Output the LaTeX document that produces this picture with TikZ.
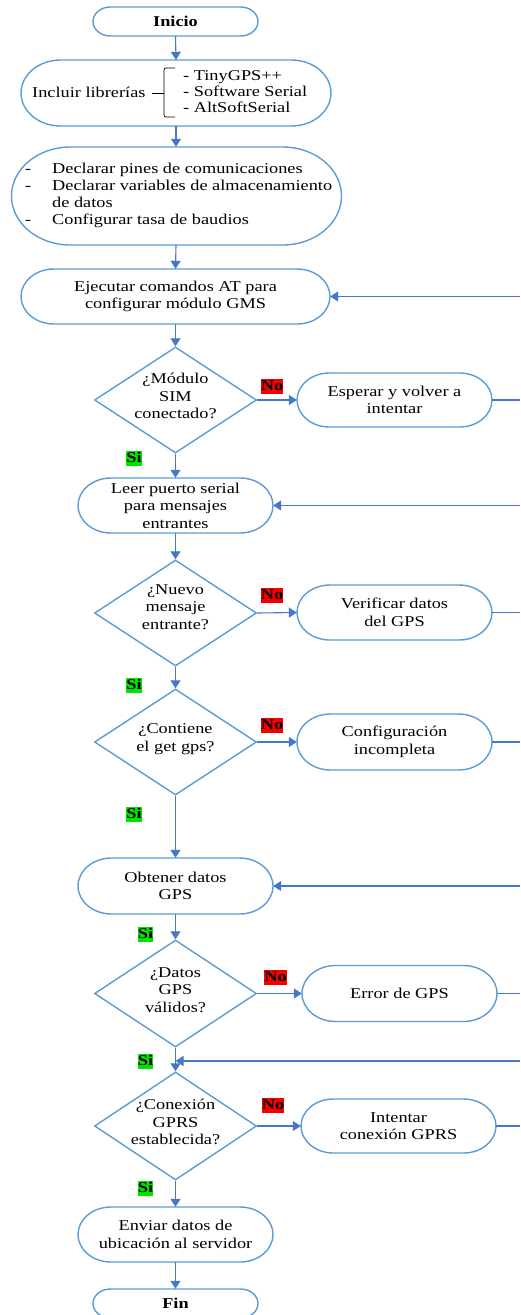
\documentclass[tikz,border=0pt]{standalone}
\usepackage{fontspec}
\setmainfont{Liberation Serif}[FakeStretch=1.22]
\usetikzlibrary{arrows.meta,shapes.geometric,calc}
\definecolor{boxblue}{RGB}{91,155,213}
\definecolor{arrblue}{RGB}{72,118,200}
\definecolor{siG}{RGB}{0,228,0}
\definecolor{noR}{RGB}{245,0,0}
\newcommand\fs{\fontsize{15}{17.5}\selectfont}
\newcommand\stad[6]{%
 \node[txt,minimum width=#4pt,minimum height=#5pt] (#1) at (#2,-#3) {#6};
 \pgfmathsetmacro\hh{#5/2}\pgfmathsetmacro\rx{1.2*\hh}%
 \draw[bx] ({#2-#4/2+\rx},{-#3+\hh}) -- ({#2+#4/2-\rx},{-#3+\hh})
   arc[start angle=90,end angle=-90,x radius=\rx,y radius=\hh]
   -- ({#2-#4/2+\rx},{-#3-\hh})
   arc[start angle=270,end angle=90,x radius=\rx,y radius=\hh] -- cycle;}
\tikzset{
 txt/.style={inner sep=0pt,align=center,font=\fs},
 bx/.style={draw=boxblue,line width=1.4pt},
 dia/.style={shape=diamond,draw=boxblue,line width=1.4pt,inner sep=0pt,minimum width=162pt,minimum height=106pt},
 arr/.style={draw=arrblue,line width=1.1pt,-{Triangle[width=10pt,length=8pt]}},
 ln/.style={draw=arrblue,line width=1.1pt},
 lab/.style={font=\bfseries\fontsize{15}{15}\selectfont,inner xsep=0pt,inner ysep=1pt,text height=11pt,text depth=2pt},
 silab/.style={lab,fill=siG},
 nolab/.style={lab,fill=noR},
}
\begin{document}
\begin{tikzpicture}[x=1pt,y=1pt]
\useasboundingbox (0,0) rectangle (520,-1315);
\clip (0,0) rectangle (520,-1315);
% main column
\stad{ini}{175.5}{21.5}{165}{29}{\bfseries Inicio}
\stad{inc}{176}{93}{310}{66}{}
\node[txt,anchor=west] (inct) at (32,-92) {Incluir librerías};
\node[txt,anchor=west,align=left,font=\fontsize{15}{16}\selectfont] (libs) at (183,-92) {- TinyGPS++\\- Software Serial\\- AltSoftSerial};
\coordinate (brA) at (175,-68);
\coordinate (brB) at (175,-117);
\coordinate (brC) at (152,-93);
\draw[line width=0.7pt,rounded corners=2pt] (brA) -- (164,-68) -- (164,-117) -- (brB);
\draw[line width=0.7pt] (brC) -- (164,-93);
\stad{dec}{176.5}{196}{330}{98}{}
\node[txt,anchor=west,align=left,font=\fontsize{15}{17}\selectfont] (dect) at (25,-195.5) {\makebox[27pt][l]{-}Declarar pines de comunicaciones\\\makebox[27pt][l]{-}Declarar variables de almacenamiento\\\hspace*{27pt}de datos\\\makebox[27pt][l]{-}Configurar tasa de baudios};
\stad{eje}{175.5}{296.5}{309}{55}{Ejecutar comandos AT para\\configurar módulo GMS}
\node[dia] (d1) at (175.5,-400) {};
\node[txt] (d1t) at (175.5,-396) {¿Módulo\\SIM\\conectado?};
\stad{esp}{394.5}{400}{195}{54}{Esperar y volver a\\intentar}
\stad{leer}{175.5}{505.5}{195}{55}{Leer puerto serial\\para mensajes\\entrantes}
\node[dia] (d2) at (175.5,-613) {};
\node[txt] (d2t) at (175.5,-607) {¿Nuevo\\mensaje\\entrante?};
\stad{ver}{394.5}{612.5}{195}{55}{Verificar datos\\del GPS}
\node[dia] (d3) at (175.5,-742) {};
\node[txt] (d3t) at (175.5,-739) {¿Contiene\\el get gps?};
\stad{conf}{394.5}{742}{195}{56}{Configuración\\incompleta}
\stad{obt}{175.5}{886}{195}{56}{Obtener datos\\GPS}
\node[dia,minimum height=107pt] (d4) at (175.5,-993.5) {};
\node[txt] (d4t) at (175.5,-990) {¿Datos\\GPS\\válidos?};
\stad{err}{399.5}{993.5}{195}{56}{Error de GPS}
\node[dia,minimum height=108pt] (d5) at (175.5,-1126) {};
\node[txt] (d5t) at (175.5,-1122) {¿Conexión\\GPRS\\establecida?};
\stad{int}{398.5}{1126}{195}{54}{Intentar\\conexión GPRS}
\stad{env}{175.5}{1234.5}{195}{55}{Enviar datos de\\ubicación al servidor}
\stad{fin}{175.5}{1303.5}{165}{29}{\bfseries Fin}
% right edge coordinates
\coordinate (r1) at (520,-296.5);
\coordinate (r2) at (520,-400);
\coordinate (r3) at (520,-505.5);
\coordinate (r4) at (520,-612.5);
\coordinate (r5) at (520,-742);
\coordinate (r6) at (520,-886);
\coordinate (r7) at (520,-993.5);
\coordinate (r8) at (520,-1061);
\coordinate (r9) at (520,-1126);
\coordinate (m) at (175.5,-1061);
% connectors
\draw[arr] (ini.south) -- (inc.south |- inc.north);
\draw[arr] (inc.south) -- (inc.south |- dec.north);
\draw[arr] (inc.south |- dec.south) -- (eje.north);
\draw[arr] (eje.south) -- (d1.north);
\draw[arr] (d1.east) -- (esp.west);
\draw[arr] (d1.south) -- (leer.north);
\draw[ln] (esp.east) -- (r2);
\draw[arr] (r1) -- (eje.east);
\draw[arr] (leer.south) -- (d2.north);
\draw[arr] (d2.east) -- (ver.west);
\draw[ln] (ver.east) -- (r4);
\draw[arr] (r3) -- (leer.east);
\draw[arr] (d2.south) -- (d3.north);
\draw[arr] (d3.east) -- (conf.west);
\draw[ln] (conf.east) -- (r5);
\draw[arr] (d3.south) -- (obt.north);
\draw[arr] (r6) -- (obt.east);
\draw[arr] (obt.south) -- (d4.north);
\draw[arr] (d4.east) -- (err.west);
\draw[ln] (err.east) -- (r7);
\draw[arr] (d4.south) -- (d5.north);
\draw[arr] (r8) -- (m);
\draw[arr] (d5.east) -- (int.west);
\draw[ln] (int.east) -- (r9);
\draw[arr] (d5.south) -- (env.north);
\draw[arr] (env.south) -- (fin.north);
% labels
\node[nolab] (no1) at (272,-386) {No};
\node[silab] (si1) at (134,-458) {Si};
\node[nolab] (no2) at (272,-595) {No};
\node[silab] (si2) at (134,-685) {Si};
\node[nolab] (no3) at (272,-725) {No};
\node[silab] (si3) at (134,-814) {Si};
\node[silab] (si4) at (145.5,-934) {Si};
\node[nolab] (no4) at (275.5,-977) {No};
\node[silab] (si5) at (145.5,-1061) {Si};
\node[nolab] (no5) at (273,-1105) {No};
\node[silab] (si6) at (145.5,-1188) {Si};
\end{tikzpicture}
\end{document}
